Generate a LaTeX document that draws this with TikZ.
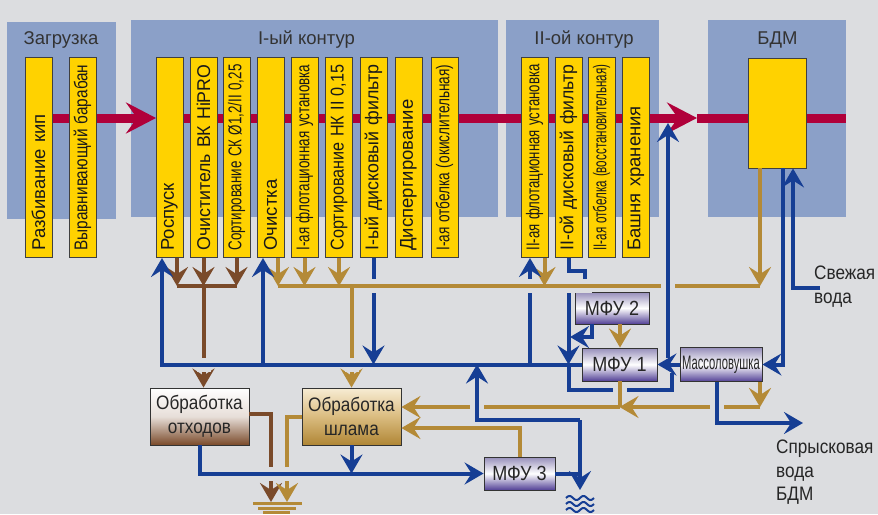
\documentclass[tikz,border=0pt]{standalone}
\usepackage{fontspec}
\usepackage{graphicx}
\setmainfont{Liberation Sans}
\newfontfamily\narrowfont[FakeStretch=0.88]{Liberation Sans}
\newfontfamily\tightfont[FakeStretch=0.575]{Liberation Sans}
\usetikzlibrary{arrows.meta}

\definecolor{bg}{RGB}{220,221,224}
\definecolor{panel}{RGB}{139,160,200}
\definecolor{yel}{RGB}{255,210,0}
\definecolor{stockred}{RGB}{176,0,58}
\definecolor{water}{RGB}{22,62,148}
\definecolor{waste}{RGB}{122,74,42}
\definecolor{sludge}{RGB}{180,138,55}
\definecolor{sltop}{RGB}{247,236,212}
\definecolor{slmid}{RGB}{218,188,128}
\definecolor{slbot}{RGB}{176,134,53}
\definecolor{mfutop}{RGB}{150,142,186}
\definecolor{mfubot}{RGB}{82,64,150}

% squeeze a label so that it fits a stage box
\newsavebox\fitbx
\newcommand{\fitw}[1]{\sbox\fitbx{#1}\ifdim\wd\fitbx>186pt\resizebox{186pt}{\ht\fitbx}{\usebox\fitbx}\else\usebox\fitbx\fi}

\tikzset{
  stage/.style={draw=black!75, line width=0.9pt, fill=yel, text=black!90, rotate=90, anchor=west,
    text width=186pt, align=left, inner xsep=7pt, inner ysep=0pt, minimum height=27pt,
    font=\fontsize{18.5}{18.5}\selectfont},
  title/.style={anchor=base, text=black!80, font=\fontsize{18.5}{20}\selectfont},
  plant/.style={draw=black!80, line width=0.9pt, inner sep=0pt, align=center, text=black!85,
    font=\narrowfont\fontsize{19.5}{23.5}\selectfont},
  mfu/.style={plant, top color=mfutop, bottom color=mfubot, middle color=white,
    font=\narrowfont\fontsize{20.5}{20.5}\selectfont},
  side/.style={inner sep=0pt, align=left, anchor=north west, text=black!85,
    font=\narrowfont\fontsize{19.5}{23.5}\selectfont},
  stock/.style={draw=stockred, line width=9pt},
  wline/.style={draw=water, line width=4pt},
  bline/.style={draw=waste, line width=4pt},
  gline/.style={draw=sludge, line width=4pt},
  hop/.style={preaction={draw=bg, line width=14pt}},
}

\begin{document}
\begin{tikzpicture}[x=1pt,y=-1pt,>={Stealth[length=19pt,width=22pt,inset=7pt]}]
	\useasboundingbox[fill=bg] (0,0) rectangle (878,514);

	% sections
	\fill[panel] (7,22) rectangle (116,219);
	\fill[panel] (131,20) rectangle (498,217);
	\fill[panel] (506,20) rectangle (659,217);
	\fill[panel] (708,20) rectangle (846,217);
	\node[title] (tzag) at (61,44.5) {Загрузка};
	\node[title] (tk1) at (306.5,44.5) {I-ый контур};
	\node[title] (tk2) at (584,44.5) {II-ой контур};
	\node[title] (tbdm) at (777.5,44.5) {БДМ};

	% stock line
	\coordinate (r0) at (39,118);
	\coordinate (r2) at (697,118);
	\coordinate (r3) at (846,118);
	\coordinate (rosp-in) at (156,118);
	\draw[stock] (r2) -- (r3);
	\draw[stock,-{Stealth[length=30pt,width=31pt,inset=11pt]}] (rosp-in) -- (r2);
	\draw[stock,-{Stealth[length=30pt,width=31pt,inset=11pt]}] (r0) -- (rosp-in);

	\foreach \x/\n/\t in {38.5/razb/{Разбивание кип}, 82.5/vyr/{Выравнивающий барабан},
		169.5/rosp/{Роспуск}, 203.5/ochvk/{Очиститель ВК HiPRO}, 236.5/sortsk/{Сортирование СК Ø1,2/II 0,25},
		270.5/ochist/{Очистка}, 304.5/flot1/{I-ая флотационная установка}, 339/sortnk/{Сортирование НК II 0,15},
		373.5/dfilt1/{I-ый дисковый фильтр}, 408.5/disp/{Диспергирование}, 444.5/otb1/{I-ая отбелка (окислительная)},
		534.5/flot2/{II-ая флотационная установка}, 568.5/dfilt2/{II-ой дисковый фильтр},
		601.5/otb2/{II-ая отбелка (восстановительная)}, 636/bash/{Башня хранения}}
	{
		\node[stage] (\n) at (\x,258) {\fitw{\t}};
	}
	\node[draw=black!75, line width=0.9pt, fill=yel, minimum width=58pt, minimum height=110pt, inner sep=0pt] (bdm) at (777,113) {};

	% treatment units
	\node[plant, top color=white, bottom color=waste, middle color=white!82!waste, minimum width=99pt, minimum height=57pt] (obrotx) at (199.5,416.5) {Обработка\\отходов};
	\node[plant, top color=sltop, bottom color=slbot, middle color=slmid, minimum width=99pt, minimum height=57pt] (obrshl) at (351.5,416.5) {Обработка\\шлама};
	\node[mfu, minimum width=74pt, minimum height=32pt] (mfu2) at (612,308) {МФУ 2};
	\node[mfu, minimum width=75pt, minimum height=33pt] (mfu1) at (619.5,364.5) {МФУ 1};
	\node[mfu, minimum width=82pt, minimum height=34pt, font=\tightfont\fontsize{19.5}{19.5}\selectfont] (mass) at (721,364.5) {Массоловушка};
	\node[mfu, minimum width=71pt, minimum height=33pt] (mfu3) at (519.5,473.5) {МФУ 3};

	\node[side] (freshlbl) at (814,266) {Свежая\\вода};
	\node[side] (spraylbl) at (776,440) {Спрысковая\\вода\\БДМ};

	% ports and junctions
	\coordinate (sbus) at (0,286);
	\coordinate (sl) at (0,407);
	\coordinate (sl2) at (0,428);
	\coordinate (rosp-w) at ([xshift=-7.5pt]rosp.west);
	\coordinate (rosp-b) at ([xshift=7.5pt]rosp.west);
	\coordinate (ochist-w) at ([xshift=-7.5pt]ochist.west);
	\coordinate (ochist-g) at ([xshift=7.5pt]ochist.west);
	\coordinate (flot2-w) at ([xshift=-4.5pt]flot2.west);
	\coordinate (flot2-g) at ([xshift=10pt]flot2.west);
	\coordinate (bdm-g) at ([xshift=-17pt]bdm.south);
	\coordinate (bdm-w) at ([xshift=6pt]bdm.south);
	\coordinate (bdm-f) at ([xshift=16pt]bdm.south);
	\coordinate (mfu2-w) at ([xshift=-20pt]mfu2.south);
	\coordinate (mfu2-g) at ([xshift=8pt]mfu2.south);
	\coordinate (mass-w) at ([xshift=-4pt]mass.south);
	\coordinate (mass-g) at ([xshift=39pt]mass.south);
	\coordinate (m2j) at (570,337);
	\coordinate (loopend) at (672,373);
	\coordinate (dil) at (668,358);
	\coordinate (dil-in) at (668,123);
	\coordinate (fresh) at (820,288);
	\coordinate (spray) at (803,423);
	\coordinate (drainup) at (580,420);
	\coordinate (drain) at (580,490);
	\coordinate (ret) at (477,364.5);
	\coordinate (grnd1) at (271,502);
	\coordinate (grnd2) at (287,502);

	% waste (brown)
	\draw[bline,->] (rosp-b) -- (rosp-b |- sbus);
	\draw[bline,->] (ochvk.west) -- (ochvk.west |- sbus);
	\draw[bline,->] (sortsk.west) -- (sortsk.west |- sbus);
	\draw[bline] (rosp-b |- sbus) -- (sortsk.west |- sbus);
	\draw[bline,->] (ochvk.west |- sbus) -- (ochvk.west |- obrotx.north);
	\draw[bline,->] ([yshift=2.5pt]obrotx.east) -| (grnd1);

	% sludge (gold)
	\draw[gline,->] (ochist-g) -- (ochist-g |- sbus);
	\draw[gline,->] (flot1.west) -- (flot1.west |- sbus);
	\draw[gline,->] (sortnk.west) -- (sortnk.west |- sbus);
	\draw[gline,->] (flot2-g) -- (flot2-g |- sbus);
	\draw[gline,->] (bdm-g) -- (bdm-g |- sbus);
	\draw[gline] (ochist-g |- sbus) -- (bdm-g |- sbus);
	\draw[gline,->] (obrshl.north |- sbus) -- (obrshl.north);
	\draw[gline,->] (obrshl.west) -| (grnd2);
	\draw[gline,->] (mfu2-g) -- (mfu2-g |- mfu1.north);
	\draw[gline,->] (mass-g) -- (mass-g |- sl);
	\draw[gline,->] (mass-g |- sl) -- (mfu1.south |- sl);
	\draw[gline] (mfu1.south) -- (mfu1.south |- sl);
	\draw[gline,->] (mfu1.south |- sl) -- (obrshl.east |- sl);
	\draw[gline,->] (mfu3.north) |- (obrshl.east |- sl2);

	% water (blue)
	\draw[wline,->] (mfu1.west) -- (rosp-w |- mfu1.west) -- (rosp-w);
	\draw[wline,->] (ochist-w |- mfu1.west) -- (ochist-w);
	\draw[wline,->] (dfilt1.west) -- (dfilt1.west |- mfu1.west);
	\draw[wline,->] (flot2-w |- mfu1.west) -- (flot2-w);
	\draw[wline] (dfilt2.west) -- ++(0,13) -- ++(16,0) -- ++(0,11);
	\draw[wline,->] (dfilt2.west |- sbus) -- (dfilt2.west |- mfu1.west);
	\draw[wline] (dfilt2.west |- mfu1.west) -- ++(0,25.5) -| (loopend);
	\draw[wline,->] (mfu2-w) |- (m2j);
	\draw[wline,->] (mass.west) -- (mfu1.east);
	\draw[wline,->] (dil) -- (dil-in);
	\draw[wline,->] (bdm-w) |- (mass.east);
	\draw[wline,->] (fresh) -| (bdm-f);
	\draw[wline,->] (mass-w) |- (spray);
	\draw[wline,->] (obrotx.south) |- (mfu3.west);
	\draw[wline,->] (obrshl.south) -- (obrshl.south |- mfu3.west);
	\draw[wline] (mfu3.east) -- (drain |- mfu3.east);
	\draw[wline,->] (drainup) -- (drain);
	\draw[wline,->] (drainup) -| (ret);

	% crossings
	\coordinate (xa) at (ochvk.west |- mfu1.west);
	\coordinate (xb) at (obrshl.north |- mfu1.west);
	\coordinate (xc) at (dfilt1.west |- sbus);
	\coordinate (xd) at (flot2-w |- sbus);
	\coordinate (xe) at (dfilt2.west |- sbus);
	\coordinate (xf) at (dil |- sbus);
	\coordinate (xg) at (ret |- sl);
	\coordinate (xh) at (mass-w |- sl);
	\coordinate (xi) at (mfu1.south |- loopend);
	\coordinate (xj) at (grnd1 |- mfu3.west);
	\draw[wline,hop] ([xshift=-7pt]xa) -- ([xshift=7pt]xa);
	\draw[wline,hop] ([xshift=-7pt]xb) -- ([xshift=7pt]xb);
	\draw[gline,hop] ([xshift=-7pt]xc) -- ([xshift=7pt]xc);
	\draw[gline,hop] ([xshift=-7pt]xd) -- ([xshift=7pt]xd);
	\draw[gline,hop] ([xshift=-7pt]xe) -- ([xshift=23pt]xe);
	\draw[wline,hop] ([yshift=7pt]xf) -- ([yshift=-7pt]xf);
	\draw[wline,hop] ([yshift=7pt]xg) -- ([yshift=-7pt]xg);
	\draw[wline,hop] ([yshift=7pt]xh) -- ([yshift=-7pt]xh);
	\draw[gline,hop] ([yshift=-10pt]xi) -- ([yshift=-24pt]xi);
	\draw[wline,hop] ([xshift=-7pt]xj) -- ([xshift=23pt]xj);

	% ground and drain
	\draw[sludge, line width=3pt] (253,503) -- (302,503) (258,508) -- (296,508) (263,512.5) -- (290,512.5);
	\foreach \w in {498,504,510}
	{
		\draw[water, line width=2pt] plot[domain=0:28, samples=40, smooth] ({566+\x},{\w-2*sin(\x*360/14)});
	}
\end{tikzpicture}
\end{document}
